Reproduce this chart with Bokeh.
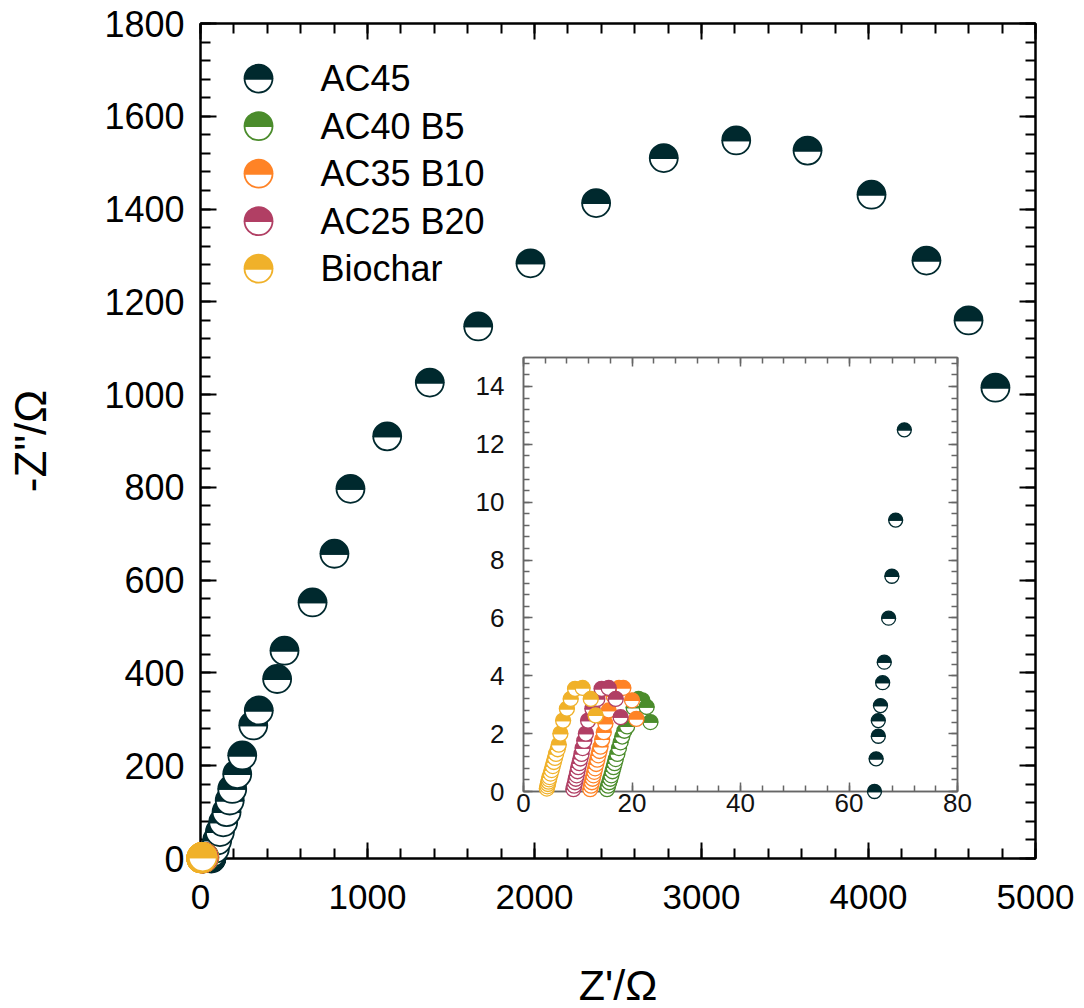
import numpy as np
from bokeh.plotting import figure
from bokeh.models import LinearAxis, SingleIntervalTicker, ColumnDataSource
from bokeh.layouts import column
from bokeh.embed import file_html
from bokeh.resources import INLINE
from bokeh.core.properties import value

# ---- Nyquist data (Z' in ohm, -Z'' in ohm) ----
series_names = ["AC45", "AC40 B5", "AC35 B10", "AC25 B20", "Biochar"]
series_colors = ["#00292E", "#4B8C2C", "#FF8326", "#B13F64", "#F0B12A"]

ac45_zre = [64.7, 65.0, 65.4, 65.4, 65.8, 66.2, 66.5, 67.3, 67.9, 68.6, 70.2,
            86, 100, 116, 136, 156, 175, 190, 220, 250, 316, 349, 459, 503,
            671, 802, 898, 1118, 1373, 1663, 1976, 2369, 2774, 3208, 3635,
            4018, 4347, 4599, 4760]
ac45_zim = [0.0, 1.13, 1.91, 2.45, 2.97, 3.76, 4.47, 5.99, 7.44, 9.38, 12.5,
            21, 39, 57, 78, 100, 125, 150, 182, 222, 287, 319, 387, 448,
            552, 657, 797, 910, 1026, 1147, 1283, 1413, 1510, 1548, 1526,
            1431, 1289, 1160, 1015]

ac40b5_zre = [15.4, 15.6, 15.8, 16.0, 16.2, 16.4, 16.6, 16.8, 17.0, 17.3,
              17.6, 17.9, 18.2, 18.6, 19.1, 20.3, 21.2, 21.9, 22.7, 23.4]
ac40b5_zim = [0.08, 0.2, 0.32, 0.44, 0.56, 0.7, 0.84, 0.98, 1.12, 1.3,
              1.5, 1.7, 1.9, 2.1, 2.25, 2.9, 3.2, 3.15, 2.92, 2.4]

ac35b10_zre = [12.3, 12.45, 12.6, 12.75, 12.9, 13.05, 13.2, 13.4, 13.6, 13.8,
               14.0, 14.2, 14.5, 14.8, 15.1, 15.7, 16.6, 17.6, 18.4, 20.0, 20.8]
ac35b10_zim = [0.08, 0.2, 0.32, 0.44, 0.56, 0.68, 0.8, 0.95, 1.1, 1.25,
               1.4, 1.55, 1.8, 2.05, 2.35, 2.8, 3.3, 3.58, 3.58, 3.15, 2.51]

ac25b20_zre = [9.2, 9.35, 9.5, 9.65, 9.8, 9.95, 10.1, 10.3, 10.5, 10.7,
               10.9, 11.2, 11.5, 11.9, 12.7, 13.6, 14.4, 15.7, 17.0, 17.9]
ac25b20_zim = [0.08, 0.2, 0.32, 0.44, 0.56, 0.7, 0.84, 0.98, 1.14, 1.3,
               1.5, 1.75, 2.0, 2.45, 2.86, 3.2, 3.55, 3.58, 3.2, 2.57]

biochar_zre = [4.3, 4.4, 4.5, 4.6, 4.7, 4.8, 5.0, 5.2, 5.4, 5.6, 5.8, 6.0,
               6.3, 6.5, 6.8, 7.3, 8.0, 8.7, 9.5, 10.9, 12.4, 13.3]
biochar_zim = [0.1, 0.18, 0.26, 0.34, 0.42, 0.5, 0.62, 0.74, 0.88, 1.02, 1.16, 1.3,
               1.46, 1.62, 2.0, 2.45, 2.86, 3.2, 3.55, 3.58, 3.2, 2.63]

series_zre = [ac45_zre, ac40b5_zre, ac35b10_zre, ac25b20_zre, biochar_zre]
series_zim = [ac45_zim, ac40b5_zim, ac35b10_zim, ac25b20_zim, biochar_zim]

x_main = (0, 5000)
y_main = (0, 1800)
x_inset = (0, 80)
y_inset = (0, 15)

FONT = "Liberation Sans"

# shared horizontal borders (a column keeps its plots' side borders in step)
BORDER_LEFT = 200
BORDER_RIGHT = 49


def half_filled(zre, zim, color):
    """Two wedges per point (white lower half, coloured upper half), interleaved
    so each marker is fully painted before the next one."""
    xs, ys, a0, a1, fills = [], [], [], [], []
    for x, y in zip(zre, zim):
        xs += [x, x]
        ys += [y, y]
        a0 += [np.pi, 0.0]
        a1 += [2 * np.pi, np.pi]
        fills += ["white", color]
    return ColumnDataSource(dict(x=xs, y=ys, start=a0, end=a1, fill=fills))


def draw_markers(fig, zre, zim, color, radius, lw):
    # overlay level: markers may spill over the axes, as in the original figure
    fig.wedge(x="x", y="y", radius=radius, radius_units="screen",
              start_angle="start", end_angle="end", fill_color="fill",
              line_color=color, line_width=lw, level="overlay",
              source=half_filled(zre, zim, color))


def style_axis(ax, major_in, minor_in, color, lw, font_size, text_color, standoff):
    ax.major_tick_in = major_in
    ax.major_tick_out = 0
    ax.minor_tick_in = minor_in
    ax.minor_tick_out = 0
    ax.axis_line_color = color
    ax.major_tick_line_color = color
    ax.minor_tick_line_color = color
    ax.axis_line_width = lw
    ax.major_tick_line_width = lw
    ax.minor_tick_line_width = lw
    ax.major_label_text_font = FONT
    ax.major_label_text_font_size = font_size
    ax.major_label_text_color = text_color
    ax.major_label_standoff = standoff


def mirror_axis(ticker, major_in, minor_in, color, lw):
    # tick marks only, no labels
    ax = LinearAxis(ticker=ticker)
    style_axis(ax, major_in, minor_in, color, lw, "1px", None, 0)
    return ax


# ---- main plot ----
xt_main = SingleIntervalTicker(interval=1000, num_minor_ticks=5)
yt_main = SingleIntervalTicker(interval=200, num_minor_ticks=5)

p = figure(width=1084, height=1008, x_range=x_main, y_range=y_main,
           output_backend="svg", toolbar_location=None,
           min_border_left=BORDER_LEFT, min_border_right=BORDER_RIGHT,
           min_border_top=23, min_border_bottom=150,
           background_fill_color="white", border_fill_color="white")
p.xgrid.visible = False
p.ygrid.visible = False
p.outline_line_color = "black"
p.outline_line_width = 2

p.xaxis.ticker = xt_main
p.yaxis.ticker = yt_main
style_axis(p.xaxis[0], 16, 10, "black", 2, "35px", "black", 26)
style_axis(p.yaxis[0], 16, 10, "black", 2, "36px", "black", 16)
p.yaxis.axis_label = "-Z\"/\u03a9"
p.yaxis.axis_label_text_font = FONT
p.yaxis.axis_label_text_font_size = "44px"
p.yaxis.axis_label_text_font_style = "normal"
p.yaxis.axis_label_text_color = "black"
p.yaxis.axis_label_standoff = 46

p.add_layout(mirror_axis(xt_main, 16, 10, "black", 2), "above")
p.add_layout(mirror_axis(yt_main, 16, 10, "black", 2), "right")

# x-axis title, set below the tick labels
x_span = x_main[1] - x_main[0]
y_span = y_main[1] - y_main[0]
p.text(x=[x_main[0] + 0.5 * x_span], y=[y_main[0] - 0.151 * y_span],
       text=["Z'/\u03a9"], text_font=value(FONT), text_font_size="43px",
       text_align="center", text_baseline="middle", text_color="black",
       level="overlay")

for zre, zim, c in zip(series_zre, series_zim, series_colors):
    draw_markers(p, zre, zim, c, 14, 1.8)

# legend: half-filled symbols and labels stacked in the upper-left corner
leg_x = [x_main[0] + 0.0695 * x_span] * len(series_names)
leg_y = [y_main[0] + (0.934 - 0.0569 * i) * y_span for i in range(len(series_names))]
for lx, ly, c in zip(leg_x, leg_y, series_colors):
    draw_markers(p, [lx], [ly], c, 14, 1.8)
p.text(x=[x_main[0] + 0.1437 * x_span] * len(series_names), y=leg_y,
       text=series_names, text_font=value(FONT), text_font_size="36px",
       text_baseline="middle", text_align="left", text_color="black")

# ---- inset: high-frequency region ----
xt_in = SingleIntervalTicker(interval=20, num_minor_ticks=5)
yt_in = SingleIntervalTicker(interval=2, num_minor_ticks=5)

inset_frame = 434
inset_top_border = 5
inset_left = 523 - BORDER_LEFT
inset_top = 357 - inset_top_border
inset = figure(width=BORDER_LEFT + inset_frame + BORDER_RIGHT,
               height=inset_top_border + inset_frame + 50,
               x_range=x_inset, y_range=y_inset,
               output_backend="svg", toolbar_location=None,
               min_border_left=BORDER_LEFT, min_border_right=BORDER_RIGHT,
               min_border_top=inset_top_border, min_border_bottom=50,
               background_fill_color="white", border_fill_alpha=0,
               margin=(inset_top - 1008, 0, 0, inset_left))
inset.xgrid.visible = False
inset.ygrid.visible = False
inset.outline_line_color = "#666666"
inset.outline_line_width = 1.5
inset.xaxis.ticker = xt_in
inset.yaxis.ticker = yt_in
style_axis(inset.xaxis[0], 9, 6, "#666666", 1.5, "26px", "#111111", 2)
style_axis(inset.yaxis[0], 9, 6, "#666666", 1.5, "26px", "#111111", 19)
inset.add_layout(mirror_axis(xt_in, 9, 6, "#666666", 1.5), "above")
inset.add_layout(mirror_axis(yt_in, 9, 6, "#666666", 1.5), "right")

inset_radius = [7, 7.5, 7.5, 7.5, 7.5]
for zre, zim, c, r in zip(series_zre, series_zim, series_colors, inset_radius):
    draw_markers(inset, zre, zim, c, r, 1.3)

layout = column(p, inset)
open("out.html", "w").write(file_html(layout, INLINE))
